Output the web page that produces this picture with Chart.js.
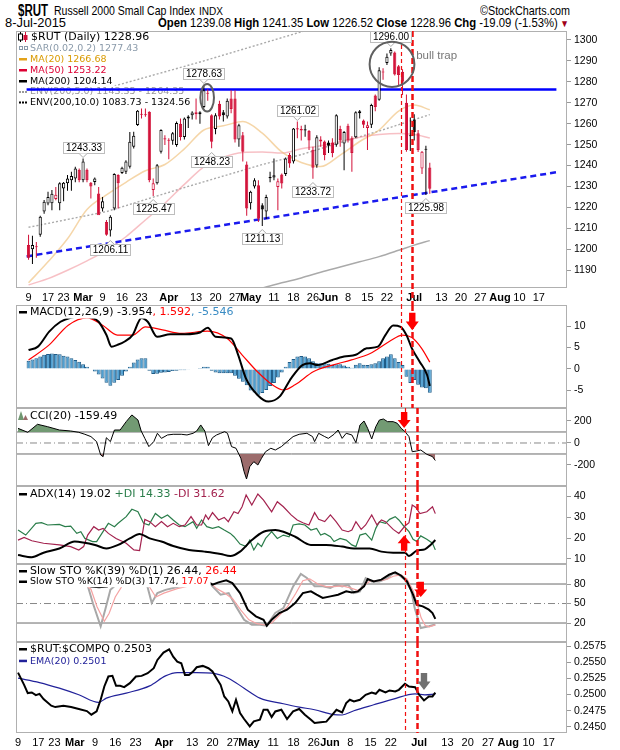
<!DOCTYPE html>
<html>
<head>
<meta charset="utf-8">
<title>$RUT Russell 2000 Small Cap Index</title>
<script src="https://cdn.jsdelivr.net/npm/chart.js@4.4.1/dist/chart.umd.min.js"></script>
<style>
  html, body { margin: 0; padding: 0; background: #fff; overflow: hidden; }
  #page { position: relative; width: 620px; height: 750px; overflow: hidden; background: #fff; }
  canvas { position: absolute; left: 0; }
  .t { position: absolute; white-space: nowrap; font-family: "Liberation Sans", Arial, sans-serif; color: #000; line-height: 1; transform-origin: left center; }
</style>
</head>
<body>
<div id="page">
  <div class="t" id="hSym" style="top:3px;font-size:16px;font-weight:bold">$RUT</div>
  <div class="t" id="hName" style="top:4px;font-size:13px">Russell 2000 Small Cap Index</div>
  <div class="t" id="hExch" style="top:7px;font-size:10px">INDX</div>
  <div class="t" id="hSite" style="top:4px;font-size:13px">&copy;StockCharts.com</div>
  <div class="t" id="hDate" style="top:16px;font-size:13px">8-Jul-2015</div>
  <div class="t" id="hQuote" style="top:16px;font-size:13px"><b>Open</b> 1239.08 <b>High</b> 1241.35 <b>Low</b> 1226.52 <b>Close</b> 1228.96 <b>Chg</b> -19.09 (-1.53%)<span style="color:#a00018;font-size:10px"> &#9660;</span></div>

  <canvas id="cMain" width="620" height="280" style="top:25px"></canvas>
  <canvas id="cMacd" width="620" height="109" style="top:299px"></canvas>
  <canvas id="cCci" width="620" height="84" style="top:402px"></canvas>
  <canvas id="cAdx" width="620" height="84" style="top:480px"></canvas>
  <canvas id="cSto" width="620" height="84" style="top:558px"></canvas>
  <canvas id="cRatio" width="620" height="114" style="top:636px"></canvas>
</div>
<script>
// trading-day slots: Feb 9 2015 (0) ... Aug 21 2015 (135), data ends Jul 8 (103)
const slots = 136;
const tickIdx = [0, 5, 9, 14, 19, 24, 29, 36, 43, 48, 53, 57, 63, 68, 73, 77, 82, 87, 92, 99, 106, 111, 116, 121, 126, 131];
const tickText = ['9', '17', '23', 'Mar', '9', '16', '23', 'Apr', '13', '20', '27', 'May', '11', '18', '26', 'Jun', '8', '15', '22', 'Jul', '13', '20', '27', 'Aug', '10', '17'];

const opens = [1202, 1200, 1201.5, 1207, 1218, 1221.9, 1222, 1224, 1222, 1229,
  1231.5, 1233, 1233.8, 1238, 1233, 1238, 1231.8, 1232.2, 1226.6, 1219.5,
  1213, 1209, 1219.5, 1235.5, 1236.5, 1237, 1239.4, 1249, 1259.4, 1264.8,
  1264.3, 1265.7, 1228.3, 1231.5, 1246.6, 1253, 1252.3, 1251.8, 1249.8, 1260,
  1253.7, 1262.5, 1264, 1265.5, 1264.5, 1268, 1274.8, 1264, 1257.5, 1269.5,
  1265.5, 1263.5, 1272, 1272, 1252.5, 1254.5, 1240.5, 1222, 1230, 1230.6,
  1221, 1218, 1234, 1234.3, 1229.8, 1235.7, 1236, 1245, 1242, 1257.8,
  1257.5, 1256.8, 1256.5, 1247.5, 1240, 1251.5, 1251.5, 1251, 1251, 1250,
  1257.5, 1250.6, 1259, 1253, 1253.5, 1265, 1261.5, 1258, 1259.5, 1273.5,
  1271.5, 1285, 1289, 1293.6, 1294, 1287.5, 1284.8, 1270, 1254, 1262,
  1255.5, 1238.6, 1247.5, 1239.08];
const highs = [1207, 1206.5, 1203.5, 1216, 1223.5, 1227.5, 1228.3, 1229.8, 1232, 1232.2,
  1235.5, 1237, 1239.4, 1238.6, 1243.33, 1238.6, 1232.2, 1234.3, 1229.8, 1225,
  1214, 1216.3, 1236.3, 1235.8, 1239.4, 1242.6, 1256, 1256.1, 1266.5, 1267.3,
  1267.3, 1265.9, 1233.8, 1240.7, 1257.3, 1254.5, 1253, 1256, 1261, 1262.5,
  1263, 1264, 1266, 1272, 1266, 1278.63, 1276.5, 1264.5, 1265, 1271,
  1266.5, 1272, 1276, 1276, 1260, 1256, 1242, 1228, 1234, 1233,
  1222, 1226, 1237, 1243.4, 1233.8, 1236.2, 1243.9, 1246, 1258, 1261.02,
  1259, 1259.5, 1257, 1249, 1254.5, 1254, 1252, 1252, 1253, 1264.5,
  1259, 1256.5, 1260, 1254, 1266, 1266.5, 1262, 1261, 1269.5, 1274,
  1287, 1286.5, 1293.6, 1296.0, 1294.5, 1288, 1286, 1274, 1263, 1264.5,
  1257, 1247, 1249.5, 1241.35];
const lows = [1195, 1193, 1196, 1206, 1217, 1221, 1218.7, 1223.4, 1218.7, 1223,
  1228, 1228, 1232, 1232, 1232, 1232, 1224.3, 1230.6, 1217, 1218,
  1206.5, 1206.11, 1218.7, 1219.5, 1236, 1236, 1238.6, 1248.2, 1258.9, 1262.5,
  1263.3, 1232, 1225.47, 1231, 1245.8, 1249.8, 1243, 1250, 1249, 1252,
  1252.5, 1258, 1262, 1262, 1260, 1267.5, 1271, 1248.23, 1255, 1262,
  1261, 1262.5, 1265, 1251, 1249, 1242, 1216, 1219, 1229, 1213,
  1211.13, 1214.5, 1232, 1233, 1218.6, 1229, 1235, 1239, 1241, 1253,
  1252, 1253.8, 1247.4, 1233.72, 1239, 1249, 1242.6, 1246, 1244, 1249,
  1249, 1237.8, 1251, 1237, 1253, 1262.5, 1258, 1247.4, 1258, 1266,
  1271, 1281, 1288, 1292.5, 1283, 1278.5, 1273.7, 1246.6, 1247, 1252,
  1246.5, 1236, 1225.98, 1226.52];
const closes = [1196, 1202, 1201, 1215.5, 1222.7, 1225, 1226.5, 1226, 1231.5, 1231.8,
  1233.8, 1235, 1238.6, 1233, 1242, 1233, 1230, 1233.8, 1216.3, 1223,
  1207, 1215.5, 1236, 1231.5, 1239, 1242, 1251.4, 1254.2, 1266.2, 1264.3,
  1264, 1233, 1231.5, 1240.2, 1257, 1252.5, 1251.8, 1255.5, 1260.4, 1253.7,
  1262.5, 1263.5, 1265.3, 1264.5, 1265.5, 1276, 1274.3, 1251.4, 1264, 1263.5,
  1264, 1271, 1267, 1252.5, 1259.3, 1246.6, 1219.5, 1227.5, 1233, 1214.6,
  1219, 1225, 1234.5, 1235.4, 1232.5, 1231.4, 1243.4, 1241, 1257.7, 1257.2,
  1256.8, 1257.3, 1252, 1239, 1253.5, 1252.5, 1245, 1249.5, 1246, 1264,
  1252, 1256, 1252, 1246, 1265.5, 1266, 1259.5, 1259.3, 1269, 1268,
  1285.5, 1284.5, 1292, 1295.2, 1283.5, 1283.3, 1280, 1247.4, 1254.2, 1256,
  1247.4, 1246.6, 1248.05, 1228.96];
const closeBeforeFirst = 1200.5;

// overlays, [slot, value]
const ma20 = [[0, 1184], [5, 1194], [10, 1205], [15, 1219], [20, 1226], [25, 1232], [30, 1237.5], [35, 1240.5], [40, 1248], [45, 1257], [50, 1259], [55, 1261], [60, 1255.5], [65, 1246.5], [70, 1241.5], [75, 1239.5], [80, 1245], [85, 1251.5], [90, 1257], [95, 1266], [99, 1268.9], [103, 1266.68]];
const ma50 = [[0, 1183], [5, 1186], [10, 1190], [15, 1194.5], [20, 1199.5], [25, 1206], [30, 1214], [35, 1222], [40, 1231], [45, 1239.4], [50, 1244], [55, 1246.3], [60, 1246.5], [65, 1246], [70, 1248], [75, 1249.5], [80, 1251.5], [85, 1253.5], [90, 1254.8], [95, 1255.3], [99, 1254.8], [103, 1253.22]];
const ma200 = [[0, 1153], [20, 1160], [40, 1168], [50, 1175], [55, 1179.5], [60, 1181.5], [65, 1184], [70, 1186.3], [75, 1189], [80, 1191.5], [85, 1194], [90, 1196.5], [95, 1199.5], [99, 1202], [103, 1204.14]];
const env5Upper = [[0, 1210.5], [20, 1218], [40, 1229.5], [60, 1240.5], [70, 1245.2], [80, 1251], [90, 1256.5], [103, 1264.35]];
const env10Upper = [[0, 1268.5], [22, 1278], [45, 1290], [72, 1305], [103, 1324.56]];
const resistance = 1276.4;
const trendX = [-0.5, 135.5];
const trendY = [1196.6, 1236.8];

// call-outs: slot, value, side
const calloutIdx = [14, 21, 32, 45, 47, 60, 69, 73, 93, 102];
const calloutVal = [1243.33, 1206.11, 1225.47, 1278.63, 1248.23, 1211.13, 1261.02, 1233.72, 1296.00, 1225.98];
const calloutUp = [true, false, false, true, false, false, true, false, true, false];
// circles: centre slot, centre value, radius in slots, radius in points
const circles = [[45.85, 1272.4, 1.75, 6.6], [93.3, 1288.4, 5.75, 10.8]];
const noteText = 'bull trap';
const notePos = [99.5, 1292.2];
// red dashed markers (slot positions)
const signalDays = [95.6, 98.5];

// MACD(12,26,9)
const macdLine = [[0, 4.4], [2.4, 5.2], [5.3, 8.7], [8.2, 11], [11, 12], [14, 12.3], [16, 12], [18, 11], [20, 7.9], [21.3, 5.2], [22.8, 5.6], [24.7, 6.4], [26.7, 7.9], [29, 11.9], [30.6, 11], [33, 7.5], [36.4, 8.1], [40.3, 8.1], [44, 8.5], [46, 9.6], [48, 7.5], [52, 7.1], [53.8, 3.3], [55.8, -2.2], [58.7, -6], [61.6, -7.6], [64.5, -6.4], [67.4, -2.2], [70.3, 0.9], [72.3, 1.3], [74.2, 0.9], [78, 2.1], [81, 2.9], [84, 3.3], [86.8, 4.8], [89.7, 5.2], [91.6, 7.9], [93.6, 10.1], [95.5, 9.8], [97, 7.9], [98.4, 4.8], [100.4, 1.7], [102.3, -1.4], [103, -3.954]];
const macdSignal = [[0, 2.1], [5.3, 5.6], [10.2, 10.2], [15, 11.9], [19, 10.2], [22.8, 7.9], [26.7, 7.9], [30, 9.8], [34.4, 9.1], [39.3, 8.3], [46, 8.8], [51, 7.1], [54.8, 3.3], [58.7, -0.6], [62.6, -3.7], [65.5, -4.9], [68.4, -3.7], [73.2, -0.6], [78, 0.9], [82.9, 2.1], [87.7, 3.6], [92.6, 6.4], [96, 7.9], [98.4, 7.3], [100.9, 4.8], [103, 1.592]];
const macdHist = [1.9, 2.2, 2.5, 2.9, 3.3, 3.5, 3.6, 3.5, 3.4, 3.1,
  2.9, 2.5, 2.1, 1.7, 1.1, 0.5, 0.1, -0.6, -1.3, -2.2,
  -3.2, -3.9, -3.2, -2.6, -1.6, -0.6, 0.5, 1.5, 2.2, 2.5,
  2.5, -0.4, -1.2, -1.1, -0.9, -0.8, -0.7, -0.5, -0.4, -0.3,
  -0.3, -0.2, 0, 0.1, 0.2, 0.5, 0.5, -0.4, -0.8, -1,
  -1, -1, -1, -1.6, -2.3, -3, -3.8, -5, -5.5, -6,
  -5.6, -4.9, -4, -3.3, -2, -0.8, 0.5, 1.6, 2.3, 2.9,
  3.0, 2.9, 2.5, 1.8, 1.3, 1.3, 1.3, 1.2, 0.9, 1.1,
  1.1, 0.8, 0.5, 0.3, 1.0, 1.3, 1.0, 0.9, 1.1, 1.3,
  1.8, 2.5, 2.9, 3.4, 2.5, 1.6, 0.9, -1.8, -3.3, -2.6,
  -3.7, -4.3, -4.5, -5.546];

// CCI(20)
const cci = [[0, 133], [2.4, 97], [4.8, 170], [7.3, 148], [10.2, 118], [13, 109], [15, 97], [16.5, 79], [18, 58], [19.4, 12], [20.4, -109], [21, -124], [21.8, 48], [22.8, 12], [23.8, 118], [25.2, 118], [26.7, 194], [28.1, 255], [29.6, 209], [30.4, 109], [31.3, 42], [32.3, -33], [33.5, 12], [34.4, 88], [35.4, 42], [36.9, 73], [38.3, 79], [40.3, 79], [41.7, 73], [43.2, 88], [44.1, 109], [45.1, 164], [46.1, 109], [47, -24], [48, 48], [49, 73], [50, 88], [51, 103], [51.7, 88], [52.7, -33], [53.8, -48], [55, -139], [55.8, -261], [56.4, -327], [57.2, -215], [58.2, -170], [59.2, -200], [60.1, -139], [61.1, -79], [62.4, -48], [63.5, -64], [65, -33], [66.4, 12], [67.9, 58], [69.4, 79], [71.3, 88], [72.7, 58], [73.2, 12], [74.2, 88], [75.7, 58], [76.6, 42], [78, 79], [79, 118], [80, 42], [81, 88], [82.4, 73], [83.4, 3], [84.4, 164], [85.4, 200], [86.3, 133], [87.3, 36], [88.3, 148], [89.2, 209], [90.2, 218], [91.2, 194], [92.6, 194], [93.6, 179], [94.6, 133], [95.5, 103], [96.5, 58], [97.3, -79], [98.4, -73], [99.4, -64], [100.9, -103], [102.3, -124], [103, -159.49]];

// ADX(14)
const adx = [[0, 11.9], [3.4, 10.8], [6.3, 13], [10.2, 15], [14, 18.3], [16, 17.9], [19, 16.7], [21.8, 15], [24.7, 16.7], [27.6, 19.8], [30, 21.9], [32.5, 19.8], [35.4, 18.3], [38.3, 16.2], [42.2, 14.3], [46, 13.5], [50, 12.4], [52.4, 11.4], [54.8, 13.5], [57.7, 19], [60.6, 23], [63.5, 23.8], [65.5, 23], [68.4, 20.6], [72.3, 16.7], [76, 16.7], [80, 15.9], [82.9, 15], [86.8, 15], [89.7, 13.5], [92.6, 13], [95.5, 13], [96.5, 11.4], [98.4, 14], [100.4, 14.6], [101.8, 16.7], [103, 19.02]];
const plusDI = [[0, 23.8], [1.9, 21.4], [4.4, 27], [5.8, 27.3], [7.3, 26.2], [10.2, 26.5], [11.6, 25.4], [13, 25.7], [14.5, 22.2], [15.5, 23], [16.5, 19.8], [18.4, 18.3], [19.4, 18.3], [20.7, 22.2], [22.3, 27], [23.8, 25.4], [24.7, 27], [26.7, 30.2], [28.1, 33.7], [29.6, 32.5], [31, 27], [32.3, 26.2], [33.9, 31.7], [35.4, 29.4], [36.9, 31], [38.3, 28.6], [39.8, 26.2], [41.2, 25.4], [43.2, 27.8], [44.1, 24.6], [45.3, 28.6], [46.6, 25.4], [48, 24.6], [49.5, 25.4], [50.9, 23.8], [52.4, 22.2], [53.3, 20.6], [54.8, 17.1], [56.3, 15.9], [57.2, 19], [58.2, 14.3], [59.2, 17.5], [60.1, 15.9], [61.1, 19.8], [62.6, 23], [64, 19.8], [65.5, 21.4], [66.9, 20.6], [67.9, 26.2], [69.4, 26.7], [70.8, 26.2], [72.3, 23.8], [73.7, 24.6], [74.7, 21.4], [75.7, 22.2], [77.1, 20.6], [78, 18.3], [79.5, 19.8], [81, 19], [82.4, 16.7], [83.4, 15.9], [84.4, 21.4], [85.8, 22.2], [87.3, 19], [88.3, 24.6], [89.2, 27.8], [90.7, 27], [91.7, 28.9], [93.1, 30.2], [94, 28.6], [95, 26.2], [96.5, 23], [97.5, 19.4], [98.4, 18.3], [99.4, 21], [100.9, 19.4], [102.3, 17.5], [103, 14.33]];
const minusDI = [[0, 19], [1.5, 20.3], [3.4, 18.7], [6.3, 17.5], [10.2, 16.7], [13, 15.9], [15, 14.3], [16.2, 15.9], [17.2, 21.4], [18.7, 25.4], [19.9, 23.8], [21, 24.6], [22.3, 22.2], [24.2, 19.8], [26.7, 17.5], [28.6, 14.3], [30, 14], [31.3, 28.9], [32.5, 27.8], [33.9, 25.4], [35.4, 27.8], [36.9, 25.4], [38.3, 27], [39.8, 25.4], [41.2, 26.2], [42.7, 30.2], [44.1, 26.2], [45.3, 26.2], [46.3, 31], [47, 28.9], [48, 32.1], [49.5, 28.6], [50.9, 29.8], [51.9, 27.8], [53.3, 32.5], [54.3, 31.7], [55.3, 34.9], [56.3, 40.5], [57.7, 35.7], [59.2, 41], [60.6, 38.1], [62.6, 32.5], [64, 37.3], [65.5, 34.9], [67.4, 31], [68.9, 28.6], [70.3, 27.3], [71.8, 26.2], [73.2, 32.1], [74.2, 28.9], [75.7, 27.8], [77.1, 31], [78.5, 27.8], [80, 23.8], [81.5, 23], [82.4, 23.8], [83.4, 27.8], [84.7, 24.1], [85.8, 26.2], [87.3, 31], [88.6, 26.2], [89.7, 28.6], [90.7, 27.8], [92.6, 24.1], [94, 22.2], [95.5, 25.7], [96.5, 27.3], [97.3, 35.7], [98.2, 34.6], [99.2, 31.7], [100.9, 32.5], [102.3, 34.9], [103, 31.62]];

// Slow stochastics
const stoK39 = [[0, 92], [5, 95], [10, 93], [15, 88], [17, 80], [18, 76], [20, 75], [22, 76], [23, 80], [25, 88], [28, 95], [30, 96], [32, 85], [34, 83], [36, 86], [40, 88], [44, 89], [46, 86.7], [48, 79], [49.5, 82.6], [51.4, 85.6], [52.9, 81.5], [54.8, 66], [56.7, 40.5], [58.7, 30.3], [60.6, 25], [61.4, 16], [62.6, 25], [64.5, 35.4], [66.4, 40.5], [68.4, 50.8], [70.3, 66], [72.3, 68.7], [73.7, 63.6], [75.2, 58.5], [77.1, 61], [79, 63.6], [81, 68.7], [82.4, 67], [83.9, 68.7], [85.4, 76.4], [86.3, 87.7], [87.8, 84], [89.7, 86.7], [91.6, 94.4], [93.1, 98], [94.6, 92.8], [96, 84], [97.5, 63.6], [98.4, 48], [99.9, 45.6], [101.4, 40.5], [102.3, 35.4], [103, 26.44]];
const stoK14 = [[0, 88], [3, 92], [6, 95], [10, 90], [14, 88], [17, 81.5], [18.5, 50], [20.4, 15], [21.5, 40], [22.8, 71], [24.7, 81.5], [27, 95], [30, 96], [31.5, 86.7], [33, 50.8], [34.4, 66], [36.4, 71], [39.3, 75.4], [42.2, 79], [44, 86.7], [46, 90], [48, 76.4], [50, 63.6], [52, 66], [53.8, 45.6], [55.8, 25], [57.7, 17.4], [59.7, 17.4], [61.4, 16], [63.5, 35.4], [65.5, 43], [67.9, 76.4], [69.8, 95.4], [71.3, 89.2], [73.2, 76.4], [75.2, 76.4], [77.1, 73.8], [78.6, 79], [80, 76.4], [81.5, 79], [82.9, 66], [84.4, 68.7], [85.8, 89.2], [87.3, 84], [89.2, 84], [91.2, 89.2], [92.6, 97], [94, 94.4], [95.5, 86.7], [97, 71.3], [97.9, 43], [99.4, 12.3], [101.4, 15], [103, 17.74]];
const stoD3 = [[0, 88], [5, 92], [10, 91], [15, 88], [18, 72], [19.5, 45], [21.3, 22.6], [22.5, 35], [24, 60], [26, 80], [30, 95], [32, 80], [34, 60], [36, 66], [39.3, 73], [42.2, 77], [44, 83], [47, 85], [49, 73], [51, 66], [53, 57], [55, 40], [57, 25], [59, 19], [61, 17], [62.6, 20], [64.5, 32], [66.5, 45], [68.5, 65], [70.3, 85], [72, 88], [74, 80], [76, 76], [78, 76], [80, 77], [82, 74], [84, 70], [85.5, 78], [87, 85], [89, 85], [91, 87], [92.6, 92], [94.5, 94], [96, 88], [97.5, 70], [98.5, 50], [99.5, 28], [100.5, 16], [101.5, 14], [103, 17.07]];

// $RUT:$COMPQ ratio
const ratio = [[0, 0.2534], [1.5, 0.25151], [2.4, 0.25023], [3.4, 0.25033], [4.4, 0.24992], [5.3, 0.25012], [6.3, 0.2493], [8.2, 0.24828], [9.2, 0.24807], [11.2, 0.24828], [13.1, 0.24807], [15, 0.24777], [17, 0.24746], [18.1, 0.2469], [19.4, 0.2474], [20.4, 0.2492], [21.3, 0.25125], [22.3, 0.25279], [23.3, 0.25289], [24.2, 0.25135], [25.2, 0.25135], [26.2, 0.25115], [27.6, 0.25176], [29.1, 0.25279], [30.5, 0.25289], [32, 0.2533], [33.5, 0.25407], [34.4, 0.25535], [35.9, 0.25648], [37.3, 0.25699], [38.3, 0.25586], [39.3, 0.2551], [40.3, 0.25484], [41.2, 0.25304], [42.2, 0.25304], [43.2, 0.25356], [44.1, 0.25422], [45.6, 0.25443], [47, 0.25407], [48, 0.25356], [49, 0.25253], [50, 0.25151], [50.9, 0.24971], [51.9, 0.24895], [52.9, 0.24741], [53.8, 0.2492], [54.8, 0.24715], [55.8, 0.24623], [57.2, 0.2451], [58.2, 0.24587], [59.7, 0.24613], [60.6, 0.24766], [61.6, 0.24766], [62.6, 0.24654], [63.5, 0.2474], [65, 0.24766], [66.4, 0.24623], [67.9, 0.2474], [69.4, 0.24777], [70.8, 0.2469], [72.3, 0.24613], [73.2, 0.24562], [74.7, 0.24572], [76.1, 0.24582], [77.6, 0.2469], [78.6, 0.24766], [80, 0.24725], [81, 0.24869], [81.9, 0.2492], [82.9, 0.24895], [84.4, 0.2492], [85.8, 0.24997], [87.3, 0.25033], [88.3, 0.25012], [89.2, 0.25074], [90.7, 0.25033], [91.7, 0.25064], [93.1, 0.25048], [94, 0.25074], [95.5, 0.25166], [96.5, 0.25125], [98, 0.25115], [99, 0.24997], [100.2, 0.2491], [101.4, 0.24971], [102.3, 0.24971], [103, 0.2503]];
const ratioEma = [[0, 0.25253], [5.3, 0.25186], [10.2, 0.25099], [15, 0.24997], [19.9, 0.24879], [21.8, 0.24946], [26.7, 0.25023], [32.5, 0.25135], [36.4, 0.25289], [39.3, 0.2534], [44.1, 0.2534], [48, 0.2533], [51.9, 0.25253], [55.8, 0.25099], [59.7, 0.24946], [65.5, 0.24859], [69.4, 0.24807], [73.2, 0.24766], [78, 0.2469], [80, 0.24685], [82.9, 0.24751], [87.8, 0.24843], [92.6, 0.2493], [98, 0.25012], [100.4, 0.24997], [103, 0.2501]];

// ---------- helpers ----------
const TXT = '"DejaVu Sans", sans-serif';
const AXF = '"Liberation Sans", Arial, sans-serif';
const RED = '#d21038';

const pts = a => a.map(([x, y]) => ({ x, y }));

function line(data, color, width, extra) {
  return Object.assign({
    type: 'line', data: pts(data), borderColor: color, borderWidth: width,
    pointRadius: 0, fill: false, tension: 0
  }, extra || {});
}

function hline(v, color, dash) {
  return {
    type: 'line', data: [{ x: -0.5, y: v }, { x: slots - 0.5, y: v }],
    borderColor: color, borderWidth: 1, borderDash: dash || [], pointRadius: 0, fill: false, order: 50
  };
}

function xAxis(show) {
  return {
    type: 'linear', min: -0.5, max: slots - 0.5, display: show,
    grid: { display: false, drawTicks: false }, border: { display: false },
    afterBuildTicks: ax => { ax.ticks = tickIdx.map(v => ({ value: v })); },
    afterFit: ax => {
      ax.height = show ? 17 : 0;
      ax.paddingLeft = 0;
      ax.paddingRight = 0;
    },
    ticks: {
      autoSkip: false, maxRotation: 0, padding: 3, color: '#000',
      font: c => ({ family: AXF, size: 11, weight: /^[A-Z]/.test(tickText[c.index] || '') ? 'bold' : 'normal' }),
      callback: (v, i) => tickText[i]
    }
  };
}

function yAxis(min, max, ticks, fmt) {
  return {
    position: 'right', min, max,
    afterBuildTicks: ax => { ax.ticks = ticks.map(v => ({ value: v })); },
    afterFit: ax => { ax.width = 53; ax.paddingTop = 0; ax.paddingBottom = 0; },
    grid: { drawOnChartArea: false, drawTicks: true, tickLength: 4, color: '#999' },
    border: { display: false },
    ticks: { padding: 3, color: '#000', font: { family: AXF, size: 10.5 }, callback: fmt || (v => v) }
  };
}

function options(yCfg, showX) {
  return {
    responsive: false, maintainAspectRatio: false, animation: false, events: [],
    layout: { padding: { left: 16, right: 0, top: 6, bottom: 0 } },
    plugins: { legend: { display: false }, tooltip: { enabled: false } },
    scales: { x: xAxis(showX), y: yCfg }
  };
}

function drawIcon(ctx, icon, color, y) {
  ctx.fillStyle = color;
  ctx.strokeStyle = color;
  ctx.lineWidth = 1;
  if (icon === 'line') {
    ctx.fillRect(19, y - 1, 8, 2.5);
  } else if (icon === 'dots') {
    for (let k = 0; k < 3; k++) ctx.fillRect(19 + k * 3, y - 0.5, 2, 2);
  } else if (icon === 'sar') {
    ctx.strokeRect(19.5, y - 1.5, 3, 3);
    ctx.strokeRect(24.5, y - 1.5, 3, 3);
  } else if (icon === 'candle') {
    ctx.fillStyle = '#000';
    ctx.fillRect(20, y - 5, 1, 10);
    ctx.strokeStyle = '#000';
    ctx.fillStyle = '#fff';
    ctx.fillRect(18.5, y - 3, 4, 6);
    ctx.strokeRect(18.5, y - 3, 4, 6);
    ctx.fillStyle = RED;
    ctx.fillRect(25, y - 5, 1, 10);
    ctx.fillRect(23.5, y - 2, 4, 5);
  } else if (icon === 'cci') {
    ctx.fillStyle = '#6f9670';
    ctx.beginPath(); ctx.moveTo(18, y + 4); ctx.lineTo(21, y - 5); ctx.lineTo(24, y + 4); ctx.fill();
    ctx.fillStyle = '#9a6a6a';
    ctx.beginPath(); ctx.moveTo(23, y + 4); ctx.lineTo(25.5, y - 1); ctx.lineTo(28, y + 4); ctx.fill();
  }
}

function drawRows(chart, rows) {
  const { ctx, chartArea: a } = chart;
  ctx.save();
  ctx.textBaseline = 'middle';
  rows.forEach(r => {
    const y = a.top + r.y;
    const x0 = r.x || 30;
    ctx.font = r.size + 'px ' + TXT;
    const w = r.parts.reduce((s, p) => s + ctx.measureText(p[0]).width, 0);
    ctx.fillStyle = '#fff';
    ctx.fillRect(a.left + 1, y - r.size * 0.6, x0 - a.left + w + 1, r.size * 1.2);
    drawIcon(ctx, r.icon, r.iconColor, y);
    let x = x0;
    ctx.font = r.size + 'px ' + TXT;
    r.parts.forEach(([t, c]) => {
      ctx.fillStyle = c;
      ctx.fillText(t, x, y + 0.5);
      x += ctx.measureText(t).width;
    });
  });
  ctx.restore();
}

function blockArrow(ctx, x, yTail, yTip, color) {
  const dir = Math.sign(yTip - yTail);
  const neck = yTip - dir * Math.abs(yTip - yTail) * 0.5;
  const sw = 3.2, hw = 6.5;
  ctx.beginPath();
  ctx.moveTo(x - sw, yTail); ctx.lineTo(x + sw, yTail);
  ctx.lineTo(x + sw, neck); ctx.lineTo(x + hw, neck);
  ctx.lineTo(x, yTip);
  ctx.lineTo(x - hw, neck); ctx.lineTo(x - sw, neck);
  ctx.closePath();
  ctx.fillStyle = color;
  ctx.fill();
}

function deco(cfg) {
  return {
    id: 'deco',
    afterDatasetDraw(chart, args) {
      if (cfg.legendAfter === args.index) drawRows(chart, cfg.rows);
    },
    afterDatasetsDraw(chart) {
      if (cfg.legendAfter === undefined && cfg.rows) drawRows(chart, cfg.rows);
    },
    afterDraw(chart) {
      const { ctx, chartArea: a, scales: { x, y } } = chart;
      ctx.save();
      ctx.strokeStyle = '#b0b0b0';
      ctx.lineWidth = 1;
      ctx.strokeRect(a.left + 0.5, a.top + 0.5, a.right - a.left - 1, a.bottom - a.top - 1);
      const bottom = cfg.toCanvasBottom ? chart.height : a.bottom;
      signalDays.forEach((d, k) => {
        const px = Math.round(x.getPixelForValue(d)) + 0.5;
        ctx.beginPath();
        ctx.strokeStyle = '#f01010';
        ctx.lineWidth = k ? 2.5 : 1.2;
        ctx.setLineDash(k ? [6, 3] : [4, 3]);
        ctx.moveTo(px, a.top);
        ctx.lineTo(px, bottom);
        ctx.stroke();
      });
      ctx.setLineDash([]);
      (cfg.arrows || []).forEach(ar => {
        blockArrow(ctx, x.getPixelForValue(ar[0]), y.getPixelForValue(ar[1]), y.getPixelForValue(ar[2]), ar[3]);
      });
      if (cfg.last) cfg.last(chart);
      ctx.restore();
    }
  };
}

// ---------- price panel ----------
const prevClose = closes.map((c, i) => i ? closes[i - 1] : closeBeforeFirst);
const candleColor = closes.map((c, i) => c < prevClose[i] ? RED : '#000');
const candleFill = closes.map((c, i) => c >= opens[i] ? '#fff' : candleColor[i]);

function drawCallouts(chart) {
  const { ctx, scales: { x, y } } = chart;
  ctx.save();
  ctx.font = '10px ' + AXF;
  ctx.textBaseline = 'middle';
  ctx.textAlign = 'center';
  calloutIdx.forEach((idx, k) => {
    const px = x.getPixelForValue(idx);
    const py = y.getPixelForValue(calloutVal[k]);
    const txt = calloutVal[k].toFixed(2);
    const w = Math.round(ctx.measureText(txt).width + 5);
    const h = 11;
    const up = calloutUp[k];
    const left = Math.round(px - w / 2) + 0.5;
    const top = Math.round(up ? py - 6 - h : py + 7.5) + 0.5;
    ctx.fillStyle = '#fff';
    ctx.strokeStyle = '#bdbdbd';
    ctx.lineWidth = 1;
    ctx.fillRect(left, top, w, h);
    ctx.strokeRect(left, top, w, h);
    // notch pointing at the extreme
    const edge = up ? top + h : top;
    const tip = up ? edge + 4 : edge - 4;
    ctx.beginPath();
    ctx.moveTo(px - 4, edge); ctx.lineTo(px, tip); ctx.lineTo(px + 4, edge);
    ctx.fillStyle = '#fff'; ctx.fill();
    ctx.strokeStyle = '#aaa'; ctx.stroke();
    ctx.fillStyle = '#000';
    ctx.fillText(txt, left + w / 2, top + h / 2 + 0.5);
  });
  ctx.strokeStyle = '#606060';
  ctx.lineWidth = 2;
  circles.forEach(([ci, cv, ri, rv]) => {
    const cx = x.getPixelForValue(ci), cy = y.getPixelForValue(cv);
    const rx = Math.abs(x.getPixelForValue(ci + ri) - cx);
    const ry = Math.abs(y.getPixelForValue(cv + rv) - cy);
    ctx.beginPath();
    ctx.ellipse(cx, cy, rx, ry, 0, 0, Math.PI * 2);
    ctx.stroke();
  });
  ctx.font = '11.5px ' + AXF;
  ctx.textAlign = 'left';
  ctx.fillStyle = '#777';
  ctx.fillText(noteText, x.getPixelForValue(notePos[0]), y.getPixelForValue(notePos[1]));
  ctx.restore();
}

const mainDatasets = [
  line(env10Upper, '#aaa', 1.4, { borderDash: [2, 2], order: 20 }),
  line(env5Upper, '#aaa', 1.4, { borderDash: [2, 2], order: 19 }),
  line(ma200, '#aaa', 1.5, { cubicInterpolationMode: 'monotone', order: 18 }),
  line(ma50, 'rgba(240,140,150,0.55)', 1.5, { cubicInterpolationMode: 'monotone', order: 17 }),
  line(ma20, 'rgba(238,186,112,0.6)', 1.5, { cubicInterpolationMode: 'monotone', order: 16 }),
  line([[trendX[0], trendY[0]], [trendX[1], trendY[1]]], '#1a1aee', 2.5, { borderDash: [6, 4], order: 5 }),
  line([[-0.5, resistance], [slots - 0.5, resistance]], '#0000ff', 2.5, { order: 4 }),
  {
    type: 'bar', order: 2, grouped: false,
    data: highs.map((h, i) => ({ x: i, y: [lows[i], h] })),
    backgroundColor: candleColor, borderWidth: 0, barThickness: 1, inflateAmount: 0
  },
  {
    type: 'bar', order: 1, grouped: false,
    data: opens.map((o, i) => ({ x: i, y: [o, closes[i]] })),
    backgroundColor: candleFill, borderColor: candleColor, borderWidth: 1, borderSkipped: false,
    barThickness: 3.2, minBarLength: 1, inflateAmount: 0
  }
];

const mainRows = [
  { y: 6, x: 31, size: 11, icon: 'candle', iconColor: '#000', parts: [['$RUT (Daily) 1228.96', '#000']] },
  { y: 17, size: 9.5, icon: 'sar', iconColor: '#8a9aaa', parts: [['SAR(0.02,0.2) 1277.43', '#8a9aaa']] },
  { y: 28, size: 9.5, icon: 'line', iconColor: '#e3a21a', parts: [['MA(20) 1266.68', '#d99a00']] },
  { y: 39, size: 9.5, icon: 'line', iconColor: '#dd0033', parts: [['MA(50) 1253.22', '#dd0033']] },
  { y: 50, size: 9.5, icon: 'line', iconColor: '#000', parts: [['MA(200) 1204.14', '#000']] },
  { y: 60.5, size: 9.5, icon: 'dots', iconColor: '#999', parts: [['ENV(200,5.0) 1143.35 - 1264.35', '#999']] },
  { y: 71, size: 9.5, icon: 'dots', iconColor: '#000', parts: [['ENV(200,10.0) 1083.73 - 1324.56', '#000']] }
];

new Chart(document.getElementById('cMain'), {
  type: 'bar',
  data: { datasets: mainDatasets },
  options: options(yAxis(1181.5, 1304.3, [1190, 1200, 1210, 1220, 1230, 1240, 1250, 1260, 1270, 1280, 1290, 1300]), true),
  plugins: [deco({ rows: mainRows, legendAfter: 4, toCanvasBottom: true, last: drawCallouts })]
});

// ---------- MACD ----------
new Chart(document.getElementById('cMacd'), {
  type: 'bar',
  data: {
    datasets: [
      line(macdLine, '#000', 2, { cubicInterpolationMode: 'monotone', order: 1 }),
      line(macdSignal, '#f00', 1.2, { cubicInterpolationMode: 'monotone', order: 2 }),
      {
        type: 'bar', order: 3, data: macdHist.map((v, i) => ({ x: i, y: v })),
        backgroundColor: '#4f9fd1', borderColor: '#1f5c88', borderWidth: 1,
        barPercentage: 1, categoryPercentage: 1, inflateAmount: 0
      }
    ]
  },
  options: options(yAxis(-9.1, 14.9, [-5, 0, 5, 10]), false),
  plugins: [deco({
    rows: [{ y: 7, size: 11, icon: 'line', iconColor: '#000', parts: [['MACD(12,26,9) -3.954', '#000'], [', 1.592', '#f00'], [', -5.546', '#3a8cc4']] }],
    arrows: [[98.5, 13.1, 9.0, '#f00']]
  })]
});

// ---------- CCI ----------
new Chart(document.getElementById('cCci'), {
  type: 'line',
  data: {
    datasets: [
      line(cci, '#000', 1, { order: 1, fill: { target: { value: 100 }, above: '#729a73', below: 'rgba(0,0,0,0)' } }),
      line(cci, 'rgba(0,0,0,0)', 0, { order: 2, fill: { target: { value: -100 }, above: 'rgba(0,0,0,0)', below: '#9c6c6c' } }),
      hline(100, '#6a6a6a'),
      hline(-100, '#6a6a6a'),
      hline(0, '#888', [7, 3, 1, 3])
    ]
  },
  options: options(yAxis(-391, 318, [-200, 0, 200]), false),
  plugins: [deco({
    rows: [{ y: 8, size: 11, icon: 'cci', iconColor: '#000', parts: [['CCI(20) -159.49', '#000']] }],
    arrows: [[95.3, 282, 136, '#f00']]
  })]
});

// ---------- ADX ----------
new Chart(document.getElementById('cAdx'), {
  type: 'line',
  data: {
    datasets: [
      line(adx, '#000', 2, { cubicInterpolationMode: 'monotone', order: 1 }),
      line(minusDI, '#a3224e', 1.2, { order: 2 }),
      line(plusDI, '#2a7d4a', 1.2, { order: 3 })
    ]
  },
  options: options(yAxis(7.6, 44.8, [10, 20, 30, 40]), false),
  plugins: [deco({
    rows: [{ y: 8, size: 11, icon: 'line', iconColor: '#000', parts: [['ADX(14) 19.02 ', '#000'], ['+DI 14.33 ', '#2a7d4a'], ['-DI 31.62', '#a3224e']] }],
    arrows: [[95.3, 13.9, 21.2, '#f00']]
  })]
});

// ---------- Slow STO ----------
new Chart(document.getElementById('cSto'), {
  type: 'line',
  data: {
    datasets: [
      line(stoK39, '#000', 2, { order: 1 }),
      line(stoD3, '#f5a3a3', 1.2, { order: 2 }),
      line(stoK14, '#a8a8a8', 2, { order: 3 }),
      hline(80, '#6a6a6a'),
      hline(20, '#6a6a6a'),
      hline(50, '#888', [7, 3, 1, 3])
    ]
  },
  options: options(yAxis(-9.2, 110.8, [20, 50, 80]), false),
  plugins: [deco({
    rows: [
      { y: 7, size: 11, icon: 'line', iconColor: '#000', parts: [['Slow STO %K(39) %D(1) 26.44, ', '#000'], ['26.44', '#f00']] },
      { y: 17.5, size: 9.5, icon: 'line', iconColor: '#000', parts: [['Slow STO %K(14) %D(3) 17.74, ', '#000'], ['17.07', '#f00']] }
    ],
    arrows: [[99.4, 83.5, 60, '#f00']]
  })]
});

// ---------- $RUT:$COMPQ ----------
new Chart(document.getElementById('cRatio'), {
  type: 'line',
  data: {
    datasets: [
      line(ratio, '#000', 2, { order: 1 }),
      line(ratioEma, '#22229a', 1.2, { cubicInterpolationMode: 'monotone', order: 2 })
    ]
  },
  options: options(yAxis(0.24407, 0.25812, [0.2450, 0.2475, 0.2500, 0.2525, 0.2550, 0.2575], v => v.toFixed(4)), true),
  plugins: [deco({
    rows: [
      { y: 7, size: 11, icon: 'line', iconColor: '#000', parts: [['$RUT:$COMPQ 0.2503', '#000']] },
      { y: 18.7, size: 9.5, icon: 'line', iconColor: '#22229a', parts: [['EMA(20) 0.2501', '#22229a']] }
    ],
    arrows: [[100.2, 0.25333, 0.25071, '#707070']]
  })]
});

// ---------- header text fitted to its measured span ----------
function fitText(id, left, right) {
  const el = document.getElementById(id);
  const w = el.getBoundingClientRect().width;
  el.style.left = left + 'px';
  el.style.transform = 'scaleX(' + ((right - left) / w).toFixed(3) + ')';
}
fitText('hSym', 18, 48);
fitText('hName', 54, 195);
fitText('hExch', 199, 223);
fitText('hSite', 480, 570);
fitText('hDate', 5, 66);
fitText('hQuote', 158, 569);
</script>
</body>
</html>
